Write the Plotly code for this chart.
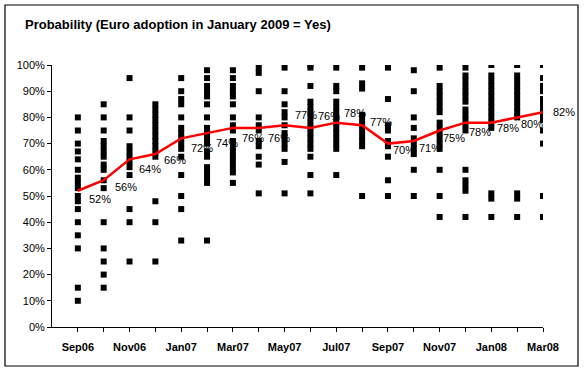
import plotly.graph_objects as go

months = ["Sep06", "Oct06", "Nov06", "Dec06", "Jan07", "Feb07", "Mar07", "Apr07",
          "May07", "Jun07", "Jul07", "Aug07", "Sep07", "Oct07", "Nov07", "Dec07",
          "Jan08", "Feb08", "Mar08"]
tick_labels = ["Sep06", "", "Nov06", "", "Jan07", "", "Mar07", "", "May07", "",
               "Jul07", "", "Sep07", "", "Nov07", "", "Jan08", "", "Mar08"]
y_ticks = [0, 10, 20, 30, 40, 50, 60, 70, 80, 90, 100]
y_tick_labels = ["0%", "10%", "20%", "30%", "40%", "50%", "60%", "70%", "80%", "90%", "100%"]

# Individual forecaster probabilities (%) per survey month
sep06 = [80, 75, 70, 67, 64, 60, 57, 55, 53, 50, 48, 45, 40, 35, 30, 15, 10]
oct06 = [85, 80, 75, 71, 69, 67, 65, 62, 60, 56, 53, 40, 30, 25, 20, 15]
nov06 = [95, 80, 75, 69, 67, 65, 63, 61, 58, 45, 40, 25]
dec06 = [85, 83, 81, 79, 77, 75, 73, 71, 69, 67, 65, 48, 40, 25]
jan07 = [95, 90, 87, 85, 80, 76, 74, 72, 70, 68, 65, 58, 50, 45, 33]
feb07 = [98, 95, 92, 90, 88, 85, 80, 76, 74, 72, 70, 67, 65, 61, 59, 57, 55, 33]
mar07 = [98, 95, 92, 90, 88, 85, 80, 77, 75, 71, 69, 67, 65, 63, 61, 59, 55]
apr07 = [99, 97, 90, 80, 77, 75, 71, 69, 65, 62, 51]
may07 = [99, 90, 85, 82, 80, 77, 74, 72, 70, 68, 63, 51]
jun07 = [100, 99, 92, 86, 84, 82, 80, 78, 76, 74, 72, 70, 68, 65, 58, 51]
jul07 = [99, 92, 90, 86, 84, 82, 80, 78, 76, 74, 72, 70, 68, 58]
aug07 = [99, 93, 91, 81, 79, 77, 75, 73, 71, 69, 50]
sep07 = [99, 87, 77, 75, 71, 69, 65, 56, 50]
oct07 = [98, 90, 80, 76, 72, 70, 68, 66, 60, 50]
nov07 = [99, 92, 90, 88, 86, 84, 82, 78, 76, 74, 72, 70, 68, 60, 50, 42]
dec07 = [99, 96, 94, 92, 90, 88, 86, 83, 81, 79, 77, 75, 60, 56, 54, 52, 42]
jan08 = [100, 96, 94, 92, 90, 88, 86, 84, 82, 80, 78, 76, 51, 49, 42]
feb08 = [100, 96, 94, 92, 90, 88, 86, 84, 82, 80, 51, 49, 42]
mar08 = [100, 95, 92, 90, 87, 85, 83, 81, 79, 75, 70, 50, 42]

forecasts = [sep06, oct06, nov06, dec06, jan07, feb07, mar07, apr07, may07, jun07,
             jul07, aug07, sep07, oct07, nov07, dec07, jan08, feb08, mar08]

# Average probability (%)
average = [52, 56, 64, 66, 72, 74, 76, 76, 77, 76, 78, 77, 70, 71, 75, 78, 78, 80, 82]

# label offsets (pixels): style only
label_dx = [22, 22, 20, 20, 21, 20, 20, 20, 21, 19, 19, 19, 16, 16, 14, 15, 17, 15, 21]
label_dy = [-8, -7, -10, -6, -10, -10, -10, -10, 10, 12, 10, 3, -6, -7, -7, -9, -5, -7, 0]

FONT = "Liberation Sans, Arial, sans-serif"

xs, ys = [], []
for i, vals in enumerate(forecasts):
    for v in vals:
        xs.append(i)
        ys.append(v)

fig = go.Figure()
fig.add_trace(go.Scatter(
    x=xs, y=ys, mode="markers",
    marker=dict(symbol="square", size=6, color="black", line=dict(width=0)),
    hoverinfo="skip", showlegend=False))
fig.add_trace(go.Scatter(
    x=list(range(len(months))), y=average, mode="lines",
    line=dict(color="#FF0000", width=2.5), showlegend=False))

annotations = []
for i, v in enumerate(average):
    annotations.append(dict(
        x=i, y=v, xref="x", yref="y", text=f"{v}%", showarrow=False,
        xanchor="center", yanchor="middle", xshift=label_dx[i], yshift=label_dy[i],
        font=dict(family=FONT, size=11, color="black")))

annotations.append(dict(
    x=(23 - 52) / 491, y=(327 - 24) / 262, xref="paper", yref="paper",
    text="<b>Probability (Euro adoption in January 2009 = Yes)</b>", showarrow=False,
    xanchor="left", yanchor="middle",
    font=dict(family=FONT, size=13, color="black")))

fig.update_layout(
    width=585, height=372,
    margin=dict(l=52, r=42, t=65, b=45),
    paper_bgcolor="white", plot_bgcolor="white",
    annotations=annotations,
    shapes=[dict(type="rect", xref="paper", yref="paper",
                 x0=(5 - 52) / 491, x1=(578 - 52) / 491,
                 y0=(327 - 366) / 262, y1=(327 - 5) / 262,
                 line=dict(color="black", width=1.2), fillcolor="rgba(0,0,0,0)",
                 layer="below")],
)
fig.update_xaxes(
    range=[-1, 18], tickmode="array",
    tickvals=list(range(len(months))), ticktext=[f"<b>{t}</b>" for t in tick_labels],
    ticks="outside", ticklen=4, tickcolor="black", showgrid=False, zeroline=False,
    showline=True, linecolor="black", linewidth=1,
    tickfont=dict(family=FONT, size=11, color="black"), ticklabelstandoff=6)
fig.update_yaxes(
    range=[0, 100], tickmode="array", tickvals=y_ticks, ticktext=y_tick_labels,
    ticks="outside", ticklen=4, tickcolor="black", showgrid=False, zeroline=False,
    showline=True, linecolor="black", linewidth=1,
    tickfont=dict(family=FONT, size=11, color="black"))

fig.write_html("out.html", config={"displayModeBar": False},
               post_script="document.body.style.margin='0px';")
